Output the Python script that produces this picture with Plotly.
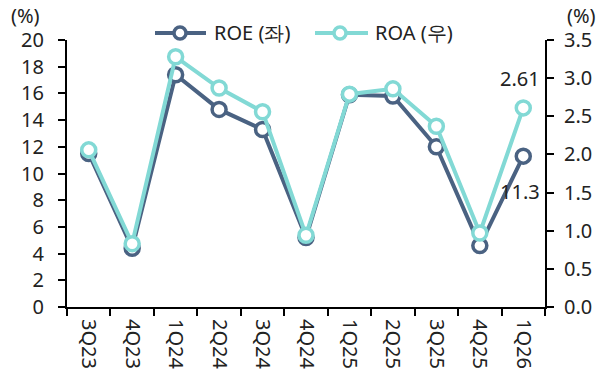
import plotly.graph_objects as go

categories = ["3Q23", "4Q23", "1Q24", "2Q24", "3Q24", "4Q24", "1Q25", "2Q25", "3Q25", "4Q25", "1Q26"]
roe = [11.5, 4.4, 17.4, 14.8, 13.3, 5.2, 15.9, 15.8, 12.0, 4.6, 11.3]
roa = [2.06, 0.83, 3.28, 2.87, 2.56, 0.94, 2.79, 2.86, 2.37, 0.97, 2.61]
series_names = ["ROE (좌)", "ROA (우)"]

roe_color = "#4a6282"
roa_color = "#82d9d5"
font = "Noto Sans"
fs = 20
W, H = 604, 373
ML, MR, MT, MB = 67, 59, 40, 66
PW, PH = W - ML - MR, H - MT - MB


def px(x):
    return (x - ML) / PW


def py(y):
    return (H - MB - y) / PH


fig = go.Figure()
fig.add_trace(go.Scatter(
    x=categories, y=roe, name=series_names[0], mode="lines+markers",
    line=dict(color=roe_color, width=4),
    marker=dict(symbol="circle", size=14, color="white", line=dict(color=roe_color, width=3.5)),
    yaxis="y", cliponaxis=False, showlegend=False,
))
fig.add_trace(go.Scatter(
    x=categories, y=roa, name=series_names[1], mode="lines+markers",
    line=dict(color=roa_color, width=4),
    marker=dict(symbol="circle", size=14, color="white", line=dict(color=roa_color, width=3.5)),
    yaxis="y2", cliponaxis=False, showlegend=False,
))

# custom legend
legend_items = [(series_names[0], roe_color, 155, 206, 180, 212),
                (series_names[1], roa_color, 315, 368, 340, 373)]
ly = 33
for name, col, x0, x1, xc, xt in legend_items:
    fig.add_shape(type="line", xref="paper", yref="paper", x0=px(x0), x1=px(x1), y0=py(ly), y1=py(ly),
                  line=dict(color=col, width=4), layer="above")
    r = 6
    fig.add_shape(type="circle", xref="paper", yref="paper", x0=px(xc - r), x1=px(xc + r),
                  y0=py(ly + r), y1=py(ly - r), fillcolor="white", line=dict(color=col, width=3.5),
                  layer="above")
    fig.add_annotation(x=px(xt), y=py(ly), xref="paper", yref="paper", text=name, showarrow=False,
                       xanchor="left", yanchor="middle", font=dict(size=20, color="#222", family=font))

fig.add_annotation(x=1, y=roe[-1], xref="paper", yref="y", text=f"{roe[-1]:.1f}",
                   showarrow=False, xanchor="right", yanchor="middle", xshift=-3, yshift=-35,
                   font=dict(size=fs, color="#222", family=font))
fig.add_annotation(x=1, y=3.0, xref="paper", yref="y2", text=f"{roa[-1]:.2f}",
                   showarrow=False, xanchor="right", yanchor="middle", xshift=-3, yshift=0,
                   font=dict(size=fs, color="#222", family=font))
fig.add_annotation(x=px(25), y=py(15), xref="paper", yref="paper", text="(%)", showarrow=False,
                   xanchor="center", yanchor="middle",
                   font=dict(size=20, color="#222", family=font))
fig.add_annotation(x=px(581), y=py(15), xref="paper", yref="paper", text="(%)", showarrow=False,
                   xanchor="center", yanchor="middle",
                   font=dict(size=20, color="#222", family=font))

axis_common = dict(showgrid=False, zeroline=False, showline=True, linecolor="black", linewidth=2,
                   ticks="outside", ticklen=7, tickwidth=2, tickcolor="black", automargin=False,
                   tickfont=dict(size=fs, color="#222", family=font))

fig.update_layout(
    width=W, height=H,
    margin=dict(l=ML, r=MR, t=MT, b=MB, autoexpand=False),
    plot_bgcolor="white", paper_bgcolor="white",
    font=dict(family=font, size=fs, color="#222"),
    showlegend=False,
    xaxis=dict(type="category", tickangle=90, tickson="boundaries", range=[-0.5, len(categories) - 0.5],
               ticklabelstandoff=6, **axis_common),
    yaxis=dict(range=[0, 20], dtick=2, ticklabelstandoff=10, **axis_common),
    yaxis2=dict(range=[0, 3.5], dtick=0.5, tickformat=".1f", overlaying="y", side="right",
                ticklabelstandoff=6, **axis_common),
)

fig.write_html("out.html", post_script="document.body.style.margin='0px';",
               config={"displayModeBar": False})
